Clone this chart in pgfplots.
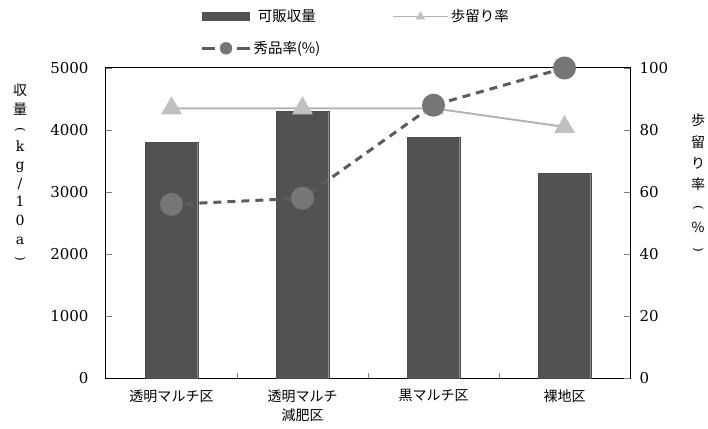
\documentclass[border=0pt]{standalone}
\usepackage{fontspec}
\setmainfont{DejaVu Serif}
\newfontfamily\jp{Noto Sans CJK JP}
\usepackage{graphicx}
\usepackage{pgfplots}
\pgfplotsset{compat=1.18}

\definecolor{barfill}{RGB}{82,82,82}
\definecolor{yieldline}{RGB}{180,180,180}
\definecolor{yieldmark}{RGB}{192,192,192}
\definecolor{gradeline}{RGB}{92,92,92}
\definecolor{grademark}{RGB}{118,118,118}

% vertical-writing parentheses
\newcommand{\vopen}{\rotatebox[origin=c]{-90}{\fontsize{12}{12}\selectfont(}}
\newcommand{\vclose}{\rotatebox[origin=c]{-90}{\fontsize{12}{12}\selectfont)}}

\pgfplotsset{
  twin/.style={
    at={(0,0)}, anchor=south west,
    scale only axis, width=524pt, height=310pt,
    xmin=-0.5, xmax=3.5,
    tick align=inside,
    major tick length=6pt, minor tick length=5pt,
    axis line style={line width=1pt},
    /pgf/number format/assume math mode=true,
    /pgf/number format/1000 sep={},
    yticklabel style={font=\fontsize{15}{18}\selectfont},
  }
}

\begin{document}
\begin{tikzpicture}[x=1pt,y=1pt]
\path[use as bounding box] (-106,-50) rectangle (602,378);

% marketable yield (kg/10a), left axis
\begin{axis}[
  twin,
  ymin=0, ymax=5000,
  ytick={0,1000,...,5000}, ytick pos=left,
  scaled y ticks=false,
  yticklabel style={xshift=-14pt},
  xtick={0,1,2,3},
  xticklabels={透明マルチ区,{透明マルチ\\減肥区},黒マルチ区,裸地区},
  xticklabel style={font=\jp\fontsize{14}{19}\selectfont, align=center, yshift=-8pt},
  major x tick style={draw=none},
  minor xtick={0.5,1.5,2.5},
  xtick pos=bottom,
  legend columns=2,
  legend style={
    at={(axis description cs:0.18,1.195)}, anchor=north west,
    draw=none, fill=none, inner sep=0pt,
    font=\jp\fontsize{14.5}{16}\selectfont,
    /tikz/column 2/.style={column sep=70pt},
    row sep=14pt,
  },
]
\addplot[ybar, bar width=0.4, fill=barfill, draw=black!70,
  legend image code/.code={\fill[barfill] (0pt,-4pt) rectangle (47pt,4pt);}]
  coordinates {(0,3800) (1,4300) (2,3880) (3,3300)};
\addlegendentry{可販収量}
\addlegendimage{legend image code/.code={
  \draw[yieldline, line width=1.6pt] (0pt,0pt) -- (55pt,0pt);
  \fill[yieldmark] (27.5pt,0pt) +(90:5pt) -- +(210:5pt) -- +(330:5pt) -- cycle;}}
\addlegendentry{歩留り率}
\addlegendimage{legend image code/.code={
  \draw[gradeline, line width=3pt] (0pt,0pt) -- (13pt,0pt);
  \draw[gradeline, line width=3pt] (35pt,0pt) -- (48pt,0pt);
  \fill[grademark] (24pt,0pt) circle (6pt);}}
\addlegendentry{秀品率(\%)}
\end{axis}

% yield rate and grade rate (%), right axis
\begin{axis}[
  twin,
  clip=false,
  ymin=0, ymax=100,
  ytick={0,20,...,100},
  axis x line=none,
  axis y line*=right,
  yticklabel style={xshift=6pt},
]
\addplot[yieldline, line width=2pt,
  mark=triangle*, mark size=10pt,
  mark options={solid, fill=yieldmark, draw=yieldmark}]
  coordinates {(0,87) (1,87) (2,87) (3,81)};
\addplot[gradeline, line width=3pt, dash pattern=on 8pt off 6pt,
  mark=*, mark size=10pt,
  mark options={solid, fill=grademark, draw=grademark}]
  coordinates {(0,56) (1,58) (2,88) (3,100)};

\node[font=\fontsize{14}{18.5}\selectfont, align=center]
  at (axis description cs:-0.164,0.66)
  {{\jp 収}\\{\jp 量}\\\vopen\\k\\g\\/\\1\\0\\a\\\vclose};
\node[font=\fontsize{14}{21.3}\selectfont, align=center]
  at (axis description cs:1.130,0.626)
  {{\jp 歩}\\{\jp 留}\\{\jp り}\\{\jp 率}\\\vopen\\{\jp \%}\\\vclose};
\end{axis}
\end{tikzpicture}
\end{document}
